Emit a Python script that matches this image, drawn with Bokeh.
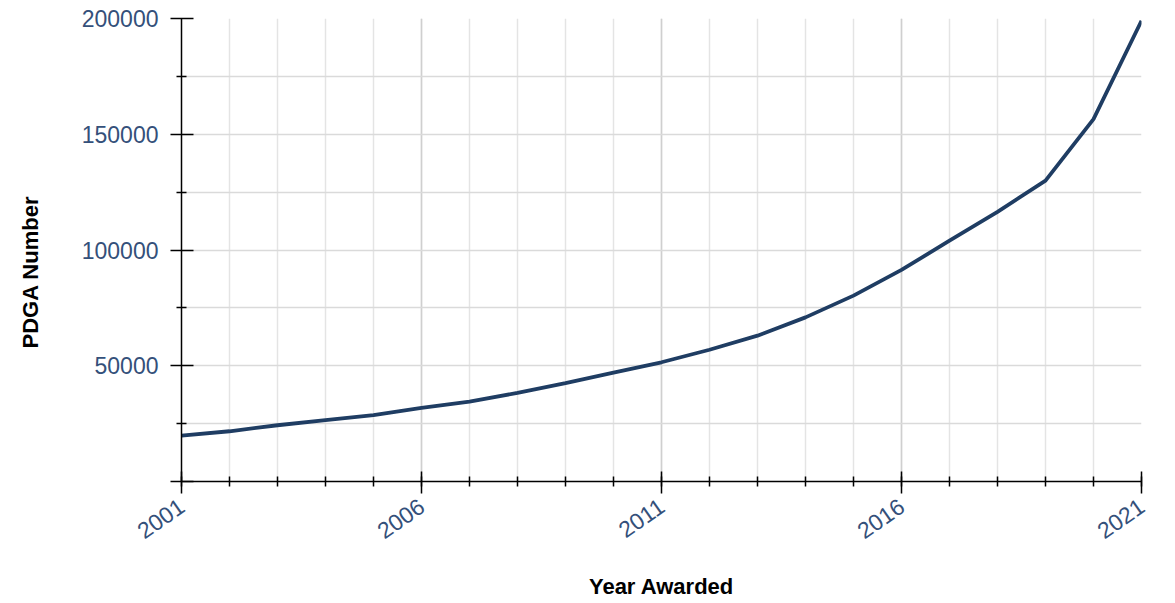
import math
from bokeh.plotting import figure
from bokeh.models import FixedTicker, Range1d, BasicTickFormatter, Title
from bokeh.embed import file_html
from bokeh.resources import INLINE

years = list(range(2001, 2022))
pdga_number = [19800, 21700, 24300, 26500, 28700, 31800, 34500, 38300, 42500,
               47000, 51500, 56900, 63000, 70900, 80300, 91400, 104000, 116500,
               130000, 156500, 199000]

x_major = [2001, 2006, 2011, 2016, 2021]
y_major = [0, 50000, 100000, 150000, 200000]
y_minor = [25000, 75000, 125000, 175000]

p = figure(width=1168, height=601, output_backend="svg", toolbar_location=None,
           x_range=Range1d(2001, 2021), y_range=Range1d(0, 200000),
           min_border_left=181, min_border_right=27, min_border_top=18,
           min_border_bottom=115)
p.outline_line_color = None
p.background_fill_color = "white"

p.line(years, pdga_number, line_color="#1f3d63", line_width=3.8)

# axes
xt = FixedTicker(ticks=x_major, minor_ticks=years)
yt = FixedTicker(ticks=y_major, minor_ticks=y_minor)
p.xaxis.ticker = xt
p.yaxis.ticker = yt
p.xgrid.ticker = xt
p.ygrid.ticker = yt
p.yaxis.formatter = BasicTickFormatter(use_scientific=False)

for ax in (p.xaxis[0], p.yaxis[0]):
    ax.axis_line_color = "black"
    ax.axis_line_width = 1.5
    ax.major_tick_line_color = "black"
    ax.major_tick_line_width = 1.5
    ax.minor_tick_line_color = "black"
    ax.minor_tick_line_width = 1.5
    ax.major_label_text_color = "#34507a"
    ax.major_label_text_font = "Liberation Sans"
    ax.major_label_text_font_size = "23px"
    ax.axis_label_text_font = "Liberation Sans"
    ax.axis_label_text_font_size = "22px"
    ax.axis_label_text_font_style = "bold"
    ax.axis_label_text_color = "black"
    ax.minor_tick_in = 5
    ax.minor_tick_out = 5

p.xaxis.major_tick_in = 10
p.xaxis.major_tick_out = 12
p.yaxis.major_tick_in = 12
p.yaxis.major_tick_out = 11
p.xaxis.major_label_orientation = math.radians(35)
p.xaxis.major_label_standoff = 10
p.yaxis.major_label_standoff = 12
p.yaxis.major_label_overrides = {0: ""}
p.xaxis.axis_label = "Year Awarded"
p.xaxis.axis_label_standoff = 24
# blank axis label only reserves room, pushing the title outward
p.yaxis.axis_label = " "
p.yaxis.axis_label_standoff = 3

# y-axis title, placed a little below the frame centre as in the reference
ytitle = Title(text="PDGA Number", align="left", offset=133,
               text_font="Liberation Sans", text_font_size="22px",
               text_font_style="bold", text_color="black")
p.add_layout(ytitle, "left")

p.xgrid.grid_line_color = "#cfcfcf"
p.xgrid.minor_grid_line_color = "#e4e4e4"
p.ygrid.grid_line_color = "#dadada"
p.ygrid.minor_grid_line_color = "#dadada"
p.xgrid.grid_line_width = 1.5
p.ygrid.grid_line_width = 1.5
p.xgrid.minor_grid_line_width = 1.5
p.ygrid.minor_grid_line_width = 1.5

open("out.html", "w").write(file_html(p, INLINE))
